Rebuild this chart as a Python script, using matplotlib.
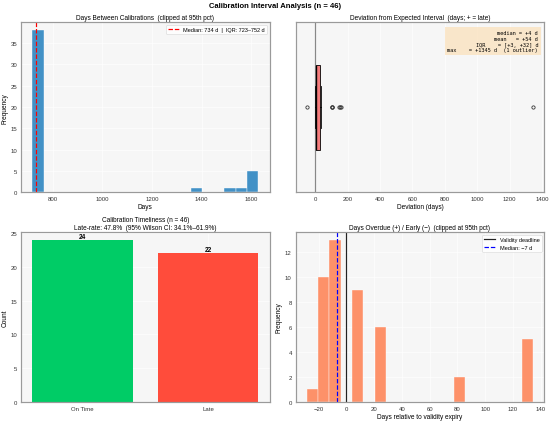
import numpy as np
import matplotlib
matplotlib.use("Agg")
import matplotlib.pyplot as plt

plt.rcParams["font.family"] = ["Liberation Sans", "DejaVu Sans"]

# ---- data ----
N = 46

# days between calibrations, already clipped at 95th pct
intervals = [718, 719, 720, 720, 721, 721, 722, 722, 722, 723, 723, 723, 723,
             724, 725, 726, 727, 728, 729, 730, 731, 732, 734, 734,
             736, 738, 740, 742, 744, 745, 746, 748, 750, 752, 752,
             755, 758, 762,
             1380, 1520, 1560, 1605, 1612, 1620, 1625, 1628]

# deviation from expected interval (days, + = late)
deviation = [-52, -2, 0, 1, 1, 2, 2, 2, 3, 3, 3, 3, 3,
             3, 3, 4, 4, 4, 4, 4, 4, 4, 4, 4,
             6, 8, 10, 13, 16, 19, 23, 27, 30, 32, 32,
             32, 33, 34, 35,
             101, 103, 104, 148, 152, 160, 1345]
n_extreme = 1

# timeliness counts
status_labels = ["On Time", "Late"]
status_counts = [24, 22]

# days relative to validity expiry, clipped at 95th pct
overdue = [-28.4,
           -20, -19, -18, -17, -16, -15, -15, -14, -13, -13,
           -12, -12, -11, -11, -10, -10, -9, -9, -8, -8, -7, -7, -7,
           4.5, 5, 6, 7, 8, 9, 10, 11, 12,
           21, 22, 23, 25, 26, 28,
           79, 83,
           127, 129, 131, 133, 134.4]


def style_ax(ax):
    ax.set_facecolor("#f6f6f6")
    ax.grid(True, color="white", linewidth=1.2)
    ax.set_axisbelow(True)
    for s in ax.spines.values():
        s.set_color("#9a9a9a")
        s.set_linewidth(2.2)
    ax.tick_params(length=0, labelsize=11, colors="#333333", pad=7)


fig, axes = plt.subplots(2, 2, figsize=(14, 10.767))
fig.subplots_adjust(left=0.038, right=0.9896, top=0.9449, bottom=0.048,
                    wspace=0.104, hspace=0.234)
fig.suptitle(f"Calibration Interval Analysis (n = {N})", fontsize=14,
             fontweight="bold", y=0.992)

# 1. histogram of intervals
ax1 = axes[0, 0]
style_ax(ax1)
iv = np.array(intervals, dtype=float)
ax1.hist(iv, bins=20, color="#2e86c1", alpha=0.9, edgecolor="white", linewidth=0.8)
med = np.median(iv)
q1, q3 = np.percentile(iv, [25, 75])
ax1.axvline(med, color="red", linestyle="--", linewidth=2.2,
            label=f"Median: {med:.0f} d  |  IQR: {q1:.0f}\u2013{q3:.0f} d")
ax1.set_title("Days Between Calibrations  (clipped at 95th pct)", fontsize=12)
ax1.set_xlabel("Days", fontsize=12)
ax1.set_ylabel("Frequency", fontsize=12)
ax1.legend(loc="upper right", fontsize=10, frameon=True)

# 2. boxplot of deviation
ax2 = axes[0, 1]
style_ax(ax2)
dv = np.array(deviation, dtype=float)
ax2.axvline(0, color="#888888", linewidth=2.2)
ax2.boxplot(dv, orientation="horizontal", widths=0.5, patch_artist=True,
            boxprops=dict(facecolor="#f47c7c", edgecolor="black", linewidth=1.5),
            medianprops=dict(color="black", linewidth=2.5),
            whiskerprops=dict(color="black", linewidth=1.5),
            capprops=dict(color="black", linewidth=1.5),
            flierprops=dict(marker="o", markersize=6, markerfacecolor="none",
                            markeredgecolor="#333333", markeredgewidth=1.5))
ax2.set_yticks([])
ax2.set_title("Deviation from Expected Interval  (days; + = late)", fontsize=12)
ax2.set_xlabel("Deviation (days)", fontsize=12)
d_q1, d_q3 = np.percentile(dv, [25, 75])
stats = (f"median = {np.median(dv):+.0f} d\n"
         f"mean   = {dv.mean():+.0f} d\n"
         f"IQR    = [{d_q1:+.0f}, {d_q3:+.0f}] d\n"
         f"max    = {dv.max():+.0f} d  ({n_extreme} outlier)")
ax2.text(0.975, 0.955, stats, transform=ax2.transAxes, ha="right", va="top",
         fontsize=9.7, family="DejaVu Sans Mono", multialignment="right",
         bbox=dict(boxstyle="square,pad=0.5", facecolor="#fbe3c0", edgecolor="none", alpha=0.8))

# 3. timeliness bars
ax3 = axes[1, 0]
style_ax(ax3)
bars = ax3.bar(status_labels, status_counts, color=["#00cc66", "#ff4c3b"], width=0.8)
for b, c in zip(bars, status_counts):
    ax3.text(b.get_x() + b.get_width() / 2, c + 0.05, str(c), ha="center", va="bottom",
             fontsize=12, fontweight="bold")
k, n = status_counts[1], sum(status_counts)
p = k / n
z = 1.96
den = 1 + z ** 2 / n
centre = (p + z ** 2 / (2 * n)) / den
half = z * np.sqrt(p * (1 - p) / n + z ** 2 / (4 * n ** 2)) / den
ax3.set_title(f"Calibration Timeliness (n = {n})\n"
              f"Late-rate: {p*100:.1f}%  (95% Wilson CI: {(centre-half)*100:.1f}%\u2013{(centre+half)*100:.1f}%)",
              fontsize=12)
ax3.set_ylabel("Count", fontsize=12)

# 4. overdue histogram
ax4 = axes[1, 1]
style_ax(ax4)
ov = np.array(overdue, dtype=float)
ax4.hist(ov, bins=20, color="coral", alpha=0.85, edgecolor="white", linewidth=0.8)
ax4.axvline(0, color="#222222", linewidth=2.2, label="Validity deadline")
ov_med = np.median(ov)
ax4.axvline(ov_med, color="blue", linestyle="--", linewidth=2.2,
            label=f"Median: {ov_med:.0f} d".replace("-", "\u2212"))
ax4.set_title("Days Overdue (+) / Early (\u2212)  (clipped at 95th pct)", fontsize=12)
ax4.set_xlabel("Days relative to validity expiry", fontsize=12)
ax4.set_ylabel("Frequency", fontsize=12)
ax4.legend(loc="upper right", fontsize=10, frameon=True)

fig.savefig("out.png", dpi=550 / 14)
